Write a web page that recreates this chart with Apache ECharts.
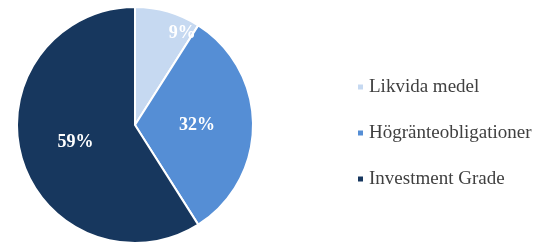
<!DOCTYPE html>
<html>
<head>
<meta charset="utf-8">
<script src="https://cdn.jsdelivr.net/npm/echarts@6/dist/echarts.min.js"></script>
<style>
  html, body { margin: 0; padding: 0; background: #fff; }
  #chart { width: 548px; height: 244px; }
</style>
</head>
<body>
<div id="chart"></div>
<script>
// andelar i procent
var categories = ['Likvida medel', 'Högränteobligationer', 'Investment Grade'];
var values = [9, 32, 59];
var colors = ['#C6D9F1', '#558ED5', '#17375E'];

var pieData = categories.map(function (name, i) {
    return { name: name, value: values[i], itemStyle: { color: colors[i] } };
});

var myChart = echarts.init(document.getElementById('chart'));
myChart.setOption({
    animation: false,
    legend: {
        orient: 'vertical',
        left: 356,
        top: 77,
        padding: 0,
        icon: 'rect',
        itemWidth: 7,
        itemHeight: 7,
        itemGap: 26,
        data: categories,
        textStyle: {
            fontFamily: 'Liberation Serif',
            fontSize: 19,
            lineHeight: 20,
            color: '#404040'
        }
    },
    series: [{
        type: 'pie',
        center: [135, 125],
        radius: [0, 118],
        startAngle: 90,
        clockwise: true,
        itemStyle: { borderColor: '#fff', borderWidth: 2 },
        label: {
            position: 'inside',
            formatter: '{c}%',
            color: '#fff',
            fontFamily: 'Liberation Serif',
            fontWeight: 'bold',
            fontSize: 18
        },
        // den lilla etiketten ligger nära kanten
        labelLayout: function (p) {
            if (p.dataIndex === 0) {
                return { dx: 30, dy: -32 };
            }
        },
        labelLine: { show: false },
        data: pieData
    }]
});
</script>
</body>
</html>
